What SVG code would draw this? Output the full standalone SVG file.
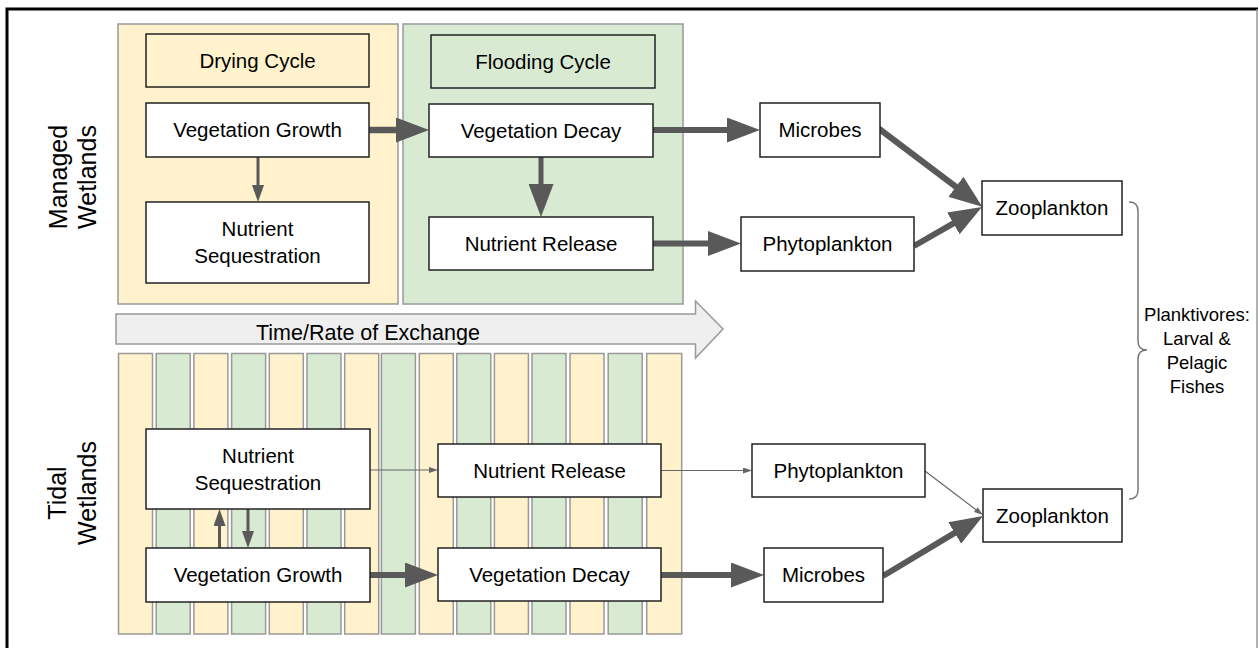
<svg xmlns="http://www.w3.org/2000/svg" width="1258" height="648" viewBox="0 0 1258 648">
<style>
  text { font-family: "Liberation Sans", Arial, sans-serif; fill: #000; }
  .t { font-size: 20.5px; text-anchor: middle; }
  .lbl { font-size: 25px; text-anchor: middle; }
  .side { font-size: 18.5px; text-anchor: middle; }
  .box { fill: #fff; stroke: #222; stroke-width: 1.5; }
  .ybox { fill: #fff2cc; stroke: #222; stroke-width: 1.5; }
  .gbox { fill: #d9ead3; stroke: #222; stroke-width: 1.5; }
  .ypan { fill: #fff2cc; stroke: #999; stroke-width: 1.5; }
  .gpan { fill: #d9ead3; stroke: #999; stroke-width: 1.5; }
  .thick { stroke: #595959; stroke-width: 6; fill: none; marker-end: url(#big); }
  .med { stroke: #595959; stroke-width: 3; fill: none; marker-end: url(#mid); }
  .thin { stroke: #666; stroke-width: 1.2; fill: none; marker-end: url(#sm); }
</style>
<defs>
  <marker id="big" markerUnits="userSpaceOnUse" viewBox="0 0 33 25" markerWidth="33" markerHeight="25" refX="2" refY="12.5" orient="auto">
    <path d="M0,0 L33,12.5 L0,25 Z" fill="#595959"/>
  </marker>
  <marker id="mid" markerUnits="userSpaceOnUse" viewBox="0 0 17 12" markerWidth="17" markerHeight="12" refX="2" refY="6" orient="auto">
    <path d="M0,0 L17,6 L0,12 Z" fill="#595959"/>
  </marker>
  <marker id="sm" markerUnits="userSpaceOnUse" viewBox="0 0 9 6" markerWidth="9" markerHeight="6" refX="1" refY="3" orient="auto">
    <path d="M0,0 L9,3 L0,6 Z" fill="#666"/>
  </marker>
</defs>

<rect x="0" y="0" width="1258" height="648" fill="#fff"/>
<!-- frame -->
<path d="M7,648 L7,9 L1258,9" fill="none" stroke="#000" stroke-width="3"/>
<line x1="1257" y1="9" x2="1257" y2="648" stroke="#999" stroke-width="1.5"/>

<!-- side labels -->
<g id="label-managed">
  <text class="lbl" transform="translate(66.5,177) rotate(-90)">Managed</text>
  <text class="lbl" transform="translate(96,177) rotate(-90)">Wetlands</text>
</g>
<g id="label-tidal">
  <text class="lbl" transform="translate(66,493) rotate(-90)">Tidal</text>
  <text class="lbl" transform="translate(96,493) rotate(-90)">Wetlands</text>
</g>

<!-- panels -->
<g id="drying-panel"><rect class="ypan" x="118" y="24" width="280" height="280"/></g>
<g id="flooding-panel"><rect class="gpan" x="403" y="24" width="280" height="280"/></g>

<!-- time arrow -->
<g id="time-arrow">
  <path d="M116,314 L695.5,314 L695.5,301 L723,329 L695.5,358 L695.5,344 L116,344 Z" fill="#efefef" stroke="#999" stroke-width="1.5"/>
  <text x="256" y="339.5" style="font-size:21.5px">Time/Rate of Exchange</text>
</g>

<!-- tidal strips -->
<g id="tidal-strips">
  <rect class="ypan" x="118.5" y="353.5" width="34" height="280.5"/>
  <rect class="gpan" x="156.2" y="353.5" width="34" height="280.5"/>
  <rect class="ypan" x="193.9" y="353.5" width="34" height="280.5"/>
  <rect class="gpan" x="231.6" y="353.5" width="34" height="280.5"/>
  <rect class="ypan" x="269.3" y="353.5" width="34" height="280.5"/>
  <rect class="gpan" x="307" y="353.5" width="34" height="280.5"/>
  <rect class="ypan" x="344.7" y="353.5" width="34" height="280.5"/>
  <rect class="gpan" x="381.4" y="353.5" width="34" height="280.5"/>
  <rect class="ypan" x="419.3" y="353.5" width="34" height="280.5"/>
  <rect class="gpan" x="456.8" y="353.5" width="34" height="280.5"/>
  <rect class="ypan" x="494.4" y="353.5" width="34" height="280.5"/>
  <rect class="gpan" x="532" y="353.5" width="34" height="280.5"/>
  <rect class="ypan" x="570" y="353.5" width="34" height="280.5"/>
  <rect class="gpan" x="608.2" y="353.5" width="34" height="280.5"/>
  <rect class="ypan" x="646.7" y="353.5" width="35" height="280.5"/>
</g>

<!-- connectors -->
<g id="connectors">
  <line class="thick" x1="369" y1="130" x2="398" y2="130" style="stroke-width:6.5"/>
  <line class="thick" x1="541" y1="157" x2="541" y2="186" style="stroke-width:5"/>
  <line class="thick" x1="653" y1="130" x2="729" y2="130"/>
  <line class="thick" x1="653" y1="243.5" x2="710" y2="243.5"/>
  <line class="med" x1="258" y1="157" x2="258" y2="187"/>
  <line class="thick" x1="878" y1="128" x2="957.5" y2="188"/>
  <line class="thick" x1="914" y1="246" x2="955.1" y2="222.4"/>

  <line class="thin" x1="370" y1="470" x2="430" y2="470"/>
  <line class="thin" x1="661" y1="470.5" x2="744" y2="470.5"/>
  <line class="thin" x1="925" y1="471" x2="976.6" y2="510.2"/>
  <line class="thick" x1="370" y1="575" x2="407" y2="575"/>
  <line class="thick" x1="661" y1="575" x2="733" y2="575"/>
  <line class="thick" x1="883" y1="576" x2="956.4" y2="531.9"/>
  <line class="med" x1="219.5" y1="548" x2="219.5" y2="524"/>
  <line class="med" x1="248" y1="509" x2="248" y2="533"/>

  <path d="M1129,202 Q1138,202 1138,211 L1138,341 Q1138,350 1147,350 Q1138,350 1138,359 L1138,490 Q1138,499 1129,499" fill="none" stroke="#777" stroke-width="1.5"/>
</g>

<!-- managed nodes -->
<g id="drying-cycle"><rect class="ybox" x="146" y="34" width="223" height="53"/><text class="t" x="257.5" y="67.5">Drying Cycle</text></g>
<g id="flooding-cycle"><rect class="gbox" x="431" y="35" width="224" height="53"/><text class="t" x="543" y="68.5">Flooding Cycle</text></g>
<g id="m-veg-growth"><rect class="box" x="146" y="103" width="223" height="54"/><text class="t" x="257.5" y="137">Vegetation Growth</text></g>
<g id="m-nutrient-seq"><rect class="box" x="146" y="202" width="223" height="81"/><text class="t" x="257.5" y="236">Nutrient</text><text class="t" x="257.5" y="262.5">Sequestration</text></g>
<g id="m-veg-decay"><rect class="box" x="429" y="104" width="224" height="53"/><text class="t" x="541" y="137.5">Vegetation Decay</text></g>
<g id="m-nutrient-release"><rect class="box" x="429" y="217" width="224" height="53"/><text class="t" x="541" y="250.5">Nutrient Release</text></g>
<g id="m-microbes"><rect class="box" x="760" y="103" width="120" height="54"/><text class="t" x="820" y="137">Microbes</text></g>
<g id="m-phyto"><rect class="box" x="741" y="217" width="173" height="54"/><text class="t" x="827.5" y="251">Phytoplankton</text></g>
<g id="m-zoo"><rect class="box" x="982" y="181" width="140" height="54"/><text class="t" x="1052" y="215">Zooplankton</text></g>

<!-- tidal nodes -->
<g id="t-nutrient-seq"><rect class="box" x="146" y="429" width="224" height="80"/><text class="t" x="258" y="462.5">Nutrient</text><text class="t" x="258" y="489.5">Sequestration</text></g>
<g id="t-nutrient-release"><rect class="box" x="438" y="444" width="223" height="53"/><text class="t" x="549.5" y="477.5">Nutrient Release</text></g>
<g id="t-veg-growth"><rect class="box" x="146" y="548" width="224" height="54"/><text class="t" x="258" y="582">Vegetation Growth</text></g>
<g id="t-veg-decay"><rect class="box" x="438" y="548" width="223" height="53"/><text class="t" x="549.5" y="581.5">Vegetation Decay</text></g>
<g id="t-phyto"><rect class="box" x="752" y="444" width="173" height="53"/><text class="t" x="838.5" y="477.5">Phytoplankton</text></g>
<g id="t-microbes"><rect class="box" x="764" y="548" width="119" height="54"/><text class="t" x="823.5" y="582">Microbes</text></g>
<g id="t-zoo"><rect class="box" x="983" y="489" width="139" height="53"/><text class="t" x="1052.5" y="522.5">Zooplankton</text></g>

<g id="planktivores">
  <text class="side" x="1197" y="320.5">Planktivores:</text>
  <text class="side" x="1197" y="344.8">Larval &amp;</text>
  <text class="side" x="1197" y="369">Pelagic</text>
  <text class="side" x="1197" y="393.3">Fishes</text>
</g>
</svg>
